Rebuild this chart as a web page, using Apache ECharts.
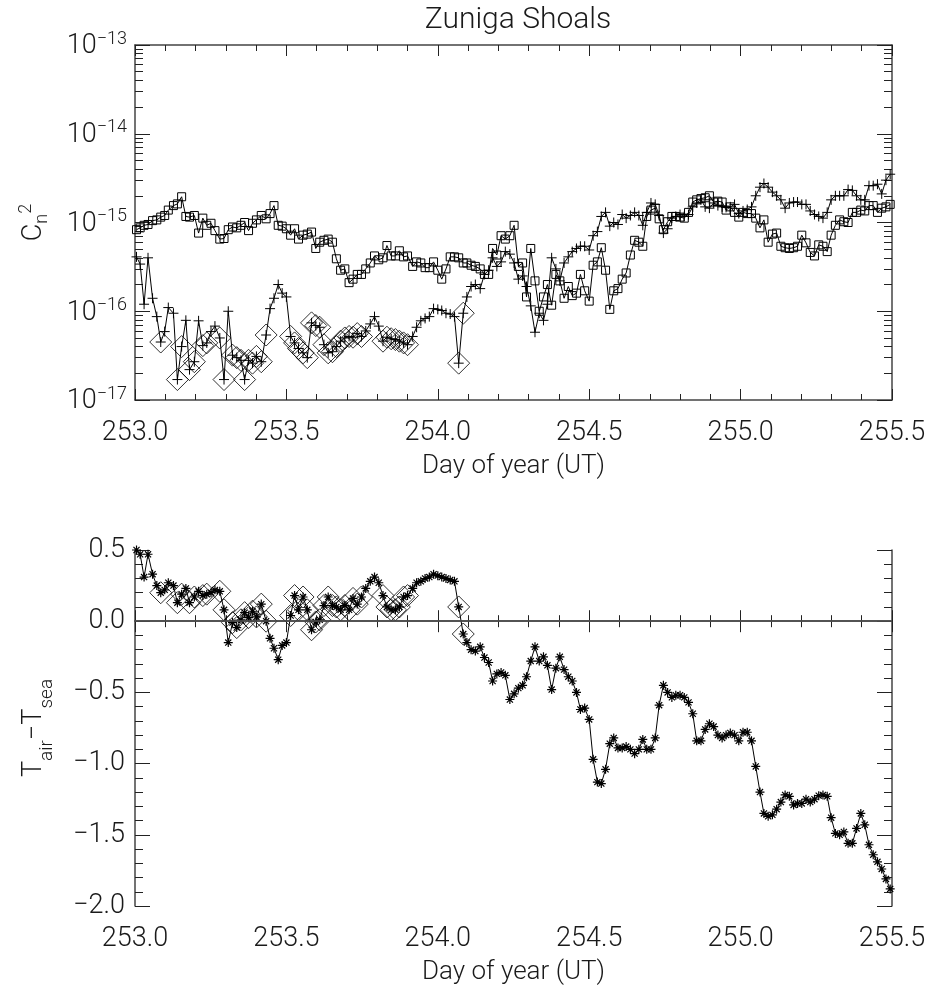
<!DOCTYPE html>
<html>
<head>
<meta charset="utf-8">
<script src="https://cdn.jsdelivr.net/npm/echarts@6/dist/echarts.min.js"></script>
<style>
html,body{margin:0;padding:0;background:#fff;}
#chart{width:932px;height:986px;}
</style>
</head>
<body>
<div id="chart"></div>
<script>
// Sample times (day of year, UT)
const days = [253.005,253.017,253.030,253.043,253.058,253.072,253.085,253.098,253.110,253.127,
253.140,253.154,253.168,253.180,253.196,253.210,253.224,253.237,253.251,253.264,
253.280,253.294,253.308,253.322,253.336,253.350,253.362,253.375,253.388,253.401,
253.417,253.433,253.446,253.459,253.473,253.486,253.500,253.514,253.527,253.540,
253.555,253.569,253.583,253.597,253.610,253.624,253.638,253.652,253.665,253.679,
253.693,253.707,253.720,253.734,253.748,253.762,253.777,253.791,253.805,253.819,
253.832,253.846,253.860,253.873,253.887,253.900,253.917,253.930,253.944,253.958,
253.972,253.986,254.000,254.013,254.027,254.041,254.055,254.069,254.084,254.096,
254.110,254.124,254.140,254.154,254.168,254.181,254.195,254.209,254.223,254.238,
254.252,254.266,254.280,254.293,254.307,254.321,254.335,254.349,254.362,254.376,
254.390,254.403,254.417,254.431,254.444,254.458,254.471,254.485,254.500,254.513,
254.527,254.540,254.554,254.568,254.581,254.595,254.609,254.622,254.636,254.650,
254.664,254.677,254.690,254.704,254.718,254.731,254.745,254.759,254.773,254.786,
254.800,254.814,254.828,254.842,254.855,254.869,254.883,254.897,254.911,254.925,
254.939,254.952,254.966,254.980,254.994,255.008,255.022,255.036,255.050,255.064,
255.077,255.091,255.105,255.119,255.133,255.147,255.161,255.175,255.188,255.202,
255.216,255.230,255.244,255.258,255.272,255.286,255.299,255.313,255.327,255.341,
255.355,255.369,255.383,255.397,255.410,255.424,255.438,255.452,255.466,255.480,
255.494];

// Cn^2 series drawn with "+" markers
const cn2Plus = [4.1e-16,3.4e-16,1.2e-16,4.0e-16,1.4e-16,8.7e-17,4.5e-17,5.9e-17,1.1e-16,9.5e-17,
1.7e-17,4.0e-17,7.9e-17,2.2e-17,2.7e-17,7.8e-17,4.1e-17,4.4e-17,5.9e-17,6.8e-17,
5.0e-17,1.7e-17,1.0e-16,3.2e-17,3.0e-17,2.8e-17,1.7e-17,2.8e-17,2.6e-17,3.1e-17,
2.7e-17,5.4e-17,1.07e-16,1.4e-16,2.0e-16,1.6e-16,1.45e-16,5.2e-17,4.4e-17,3.8e-17,
3.4e-17,3.0e-17,7.4e-17,6.9e-17,6.6e-17,4.2e-17,3.4e-17,3.5e-17,4.0e-17,4.6e-17,
5.0e-17,5.2e-17,5.1e-17,5.6e-17,5.2e-17,6.0e-17,7.2e-17,8.7e-17,6.8e-17,4.6e-17,
5.1e-17,4.9e-17,4.8e-17,4.6e-17,4.4e-17,4.2e-17,5.2e-17,6.6e-17,7.8e-17,8.3e-17,
8.7e-17,1.07e-16,1.05e-16,1.02e-16,9.5e-17,9.3e-17,8.7e-17,2.6e-17,9.5e-17,1.45e-16,
1.9e-16,2.0e-16,1.8e-16,2.6e-16,2.9e-16,4.0e-16,3.2e-16,3.6e-16,4.7e-16,4.4e-16,
3.5e-16,2.3e-16,2.5e-16,1.9e-16,1.15e-16,5.8e-17,9.5e-17,7.9e-17,1.2e-16,4.0e-16,
3.0e-16,2.2e-16,3.5e-16,4.1e-16,4.7e-16,5.1e-16,5.4e-16,5.4e-16,4.9e-16,7.1e-16,
7.9e-16,1.17e-15,1.3e-15,9.1e-16,1.0e-15,9.5e-16,1.23e-15,1.12e-15,1.2e-15,1.3e-15,
1.2e-15,9.3e-16,1.3e-15,1.66e-15,1.6e-15,1.2e-15,7.6e-16,8.5e-16,1.12e-15,1.17e-15,
1.23e-15,1.17e-15,1.23e-15,1.5e-15,1.66e-15,1.8e-15,1.5e-15,1.45e-15,1.66e-15,1.55e-15,
1.5e-15,1.48e-15,1.5e-15,1.6e-15,1.26e-15,1.35e-15,1.4e-15,1.5e-15,2.0e-15,2.5e-15,
2.75e-15,2.5e-15,2.2e-15,2.0e-15,1.8e-15,1.45e-15,1.66e-15,1.7e-15,1.7e-15,1.6e-15,
1.6e-15,1.35e-15,1.23e-15,1.17e-15,1.12e-15,1.3e-15,1.8e-15,2.0e-15,2.0e-15,2.0e-15,
2.35e-15,2.3e-15,2.0e-15,1.8e-15,1.8e-15,2.6e-15,2.6e-15,2.7e-15,2.1e-15,3.0e-15,
3.5e-15];

// Cn^2 series drawn with square markers
const cn2Square = [8.3e-16,8.7e-16,9.3e-16,9.5e-16,1.05e-15,1.07e-15,1.15e-15,1.2e-15,1.38e-15,1.55e-15,
1.62e-15,1.95e-15,1.17e-15,1.15e-15,1.2e-15,7.6e-16,1.12e-15,9.3e-16,9.8e-16,8.1e-16,
6.5e-16,6.6e-16,8.3e-16,8.9e-16,8.7e-16,9.3e-16,1.0e-15,8.1e-16,9.8e-16,1.07e-15,
1.2e-15,1.1e-15,1.26e-15,1.55e-15,9.3e-16,9.1e-16,8.5e-16,7.2e-16,8.5e-16,6.5e-16,
7.2e-16,7.4e-16,7.8e-16,5.1e-16,6.0e-16,6.3e-16,6.5e-16,6.0e-16,3.9e-16,2.9e-16,
3.0e-16,2.1e-16,2.3e-16,2.6e-16,2.6e-16,3.0e-16,3.5e-16,4.2e-16,3.8e-16,4.0e-16,
5.5e-16,4.2e-16,4.2e-16,4.8e-16,4.1e-16,4.2e-16,3.2e-16,3.6e-16,3.5e-16,3.1e-16,
3.1e-16,3.6e-16,2.9e-16,2.3e-16,3.0e-16,4.1e-16,4.1e-16,4.0e-16,3.5e-16,3.5e-16,
3.3e-16,3.2e-16,3.0e-16,2.6e-16,2.6e-16,5.1e-16,4.3e-16,7.1e-16,6.5e-16,7.1e-16,
9.3e-16,3.2e-16,3.5e-16,1.45e-16,5.1e-16,2.2e-16,1.0e-16,1.45e-16,2.0e-16,1.17e-16,
2.6e-16,2.2e-16,1.4e-16,1.9e-16,1.5e-16,1.6e-16,2.6e-16,1.7e-16,1.3e-16,3.3e-16,
3.6e-16,5.2e-16,2.9e-16,1.05e-16,1.7e-16,1.8e-16,2.3e-16,2.7e-16,4.3e-16,6.3e-16,
6.0e-16,5.4e-16,1.17e-15,1.38e-15,1.45e-15,1.1e-15,8.3e-16,1.02e-15,1.17e-15,1.17e-15,
1.15e-15,1.12e-15,1.3e-15,1.7e-15,1.8e-15,1.86e-15,1.9e-15,2.0e-15,1.7e-15,1.74e-15,
1.7e-15,1.38e-15,1.5e-15,1.3e-15,1.15e-15,1.3e-15,1.26e-15,1.26e-15,1.12e-15,8.7e-16,
1.07e-15,6.0e-16,7.4e-16,7.6e-16,5.4e-16,5.2e-16,5.1e-16,5.2e-16,5.4e-16,7.2e-16,
5.9e-16,4.6e-16,4.2e-16,5.6e-16,5.4e-16,4.7e-16,7.2e-16,9.3e-16,1.07e-15,1.02e-15,
1.0e-15,1.3e-15,1.3e-15,1.38e-15,1.35e-15,1.55e-15,1.55e-15,1.3e-15,1.45e-15,1.5e-15,
1.6e-15];

// T_air - T_sea (deg C), asterisk markers
const tDiff = [0.50,0.47,0.31,0.47,0.33,0.25,0.20,0.22,0.27,0.25,
0.13,0.19,0.23,0.13,0.17,0.21,0.18,0.19,0.20,0.22,
0.21,0.08,-0.15,-0.01,-0.045,0.01,0.06,0.025,0.07,0.03,
0.12,0.00,-0.12,-0.19,-0.27,-0.17,-0.15,0.04,0.18,0.08,
0.17,0.08,-0.06,-0.005,0.01,0.11,0.17,0.11,0.10,0.08,
0.11,0.08,0.16,0.12,0.17,0.23,0.28,0.31,0.27,0.18,
0.10,0.08,0.08,0.10,0.17,0.18,0.23,0.27,0.28,0.30,
0.31,0.33,0.32,0.31,0.30,0.29,0.28,0.10,-0.09,-0.15,
-0.20,-0.21,-0.18,-0.255,-0.29,-0.42,-0.37,-0.36,-0.38,-0.55,
-0.51,-0.47,-0.45,-0.39,-0.28,-0.18,-0.28,-0.25,-0.31,-0.48,
-0.33,-0.25,-0.34,-0.39,-0.42,-0.50,-0.62,-0.61,-0.69,-0.97,
-1.13,-1.14,-1.04,-0.86,-0.82,-0.89,-0.89,-0.88,-0.90,-0.93,
-0.90,-0.83,-0.90,-0.90,-0.82,-0.59,-0.45,-0.50,-0.535,-0.52,
-0.52,-0.535,-0.57,-0.65,-0.84,-0.84,-0.76,-0.72,-0.74,-0.80,
-0.82,-0.80,-0.785,-0.80,-0.84,-0.78,-0.78,-0.84,-1.02,-1.20,
-1.35,-1.37,-1.36,-1.32,-1.27,-1.22,-1.23,-1.29,-1.28,-1.28,
-1.25,-1.27,-1.25,-1.225,-1.22,-1.23,-1.38,-1.49,-1.50,-1.48,
-1.56,-1.56,-1.455,-1.35,-1.43,-1.57,-1.64,-1.69,-1.74,-1.81,
-1.88];

// Times that are flagged with a diamond in both panels
const diamondDays = [253.085,253.140,253.154,253.180,253.196,253.224,253.237,253.280,253.294,
253.322,253.336,253.350,253.362,253.375,253.388,253.401,253.417,253.433,
253.514,253.527,253.540,253.555,253.569,253.583,253.597,253.610,253.624,253.638,
253.652,253.665,253.679,253.693,253.707,253.720,253.734,253.748,
253.819,253.832,253.846,253.860,253.873,253.887,253.900,254.069,254.084];

const xTicks = [253.0, 253.5, 254.0, 254.5, 255.0, 255.5];
const cn2Decades = [1e-17, 1e-16, 1e-15, 1e-14, 1e-13];
const tTicks = [-2.0, -1.5, -1.0, -0.5, 0.0, 0.5];

// ---- build
const FONT = 'Roboto';
const FW = 300;
const TXT = '#1a1a1a';
const FRAME = '#444';

const plusData = days.map((d, i) => [d, cn2Plus[i]]);
const squareData = days.map((d, i) => [d, cn2Square[i]]);
const tData = days.map((d, i) => [d, tDiff[i]]);
const diamTop = [], diamBot = [];
diamondDays.forEach(d => {
  const i = days.indexOf(d);
  if (i >= 0) { diamTop.push([d, cn2Plus[i]]); diamBot.push([d, tDiff[i]]); }
});

const minorLog = [];
for (let e = -17; e < -13; e++) for (let k = 2; k <= 9; k++) minorLog.push(k * Math.pow(10, e));

const PLUS = 'path://M0,5L10,5M5,0L5,10';
const STAR = 'path://M5,0L5,10M0,5L10,5M1.6,1.6L8.4,8.4M1.6,8.4L8.4,1.6';

const lineAxis = { show: true, lineStyle: { color: FRAME, width: 1.5 } };

function xAx(grid, pos, labels) {
  return {
    gridIndex: grid, type: 'value', position: pos,
    min: xTicks[0], max: xTicks[xTicks.length - 1], interval: 0.5,
    axisLine: lineAxis,
    axisTick: { show: true, inside: true, length: 11, lineStyle: { color: '#222', width: 1 } },
    minorTick: { show: true, splitNumber: 5, length: 6, lineStyle: { color: '#222', width: 1 } },
    splitLine: { show: false }, minorSplitLine: { show: false },
    axisLabel: labels ? { show: true, margin: 20, fontSize: 27, fontFamily: FONT, fontWeight: FW, color: TXT,
      formatter: v => v.toFixed(1) } : { show: false },
    name: labels ? 'Day of year (UT)' : '', nameLocation: 'middle', nameGap: 53,
    nameTextStyle: { fontSize: 26, fontFamily: FONT, fontWeight: FW, color: TXT }
  };
}

function logAx(pos, minor, labels) {
  const ax = {
    gridIndex: 0, type: 'log', logBase: 10, position: pos,
    min: 1e-17, max: 1e-13,
    axisLine: minor ? { show: false } : lineAxis,
    axisTick: { show: true, inside: true, length: minor ? 8 : 15,
      customValues: minor ? minorLog : cn2Decades, lineStyle: { color: '#222', width: 1 } },
    minorTick: { show: false },
    splitLine: { show: false },
    axisLabel: { show: false }
  };
  if (labels) {
    ax.axisLabel = {
      show: true, customValues: cn2Decades, margin: 8, color: TXT,
      formatter: v => '{b|10}{s|\u2212' + Math.round(-Math.log10(v)) + '}',
      rich: {
        b: { fontSize: 27, fontFamily: FONT, fontWeight: FW, color: TXT, lineHeight: 30, verticalAlign: 'bottom' },
        s: { fontSize: 18, fontFamily: FONT, fontWeight: FW, color: TXT, lineHeight: 18, verticalAlign: 'top' }
      }
    };
    ax.name = '{c|C}{n|n}{p|2}';
    ax.nameLocation = 'middle';
    ax.nameGap = 84;
    ax.nameTextStyle = {
      rich: {
        c: { fontSize: 27, fontFamily: FONT, fontWeight: FW, color: TXT, lineHeight: 34, verticalAlign: 'middle' },
        n: { fontSize: 18, fontFamily: FONT, fontWeight: FW, color: TXT, lineHeight: 18, verticalAlign: 'bottom' },
        p: { fontSize: 18, fontFamily: FONT, fontWeight: FW, color: TXT, lineHeight: 18, verticalAlign: 'top' }
      }
    };
  }
  return ax;
}

function tAx(pos, labels) {
  const ax = {
    gridIndex: 1, type: 'value', position: pos,
    min: tTicks[0], max: tTicks[tTicks.length - 1], interval: 0.5,
    axisLine: lineAxis,
    axisTick: { show: true, inside: true, length: 15, lineStyle: { color: '#222', width: 1 } },
    minorTick: { show: true, splitNumber: 5, length: 8, lineStyle: { color: '#222', width: 1 } },
    splitLine: { show: false }, minorSplitLine: { show: false },
    axisLabel: { show: false }
  };
  if (labels) {
    ax.axisLabel = { show: true, margin: 10, fontSize: 27, fontFamily: FONT, fontWeight: FW, color: TXT,
      formatter: v => v.toFixed(1).replace('-', '\u2212') };
    ax.name = '{t|T}{s|air}{t|\u2212T}{s|sea}';
    ax.nameLocation = 'middle';
    ax.nameGap = 84;
    ax.nameTextStyle = {
      rich: {
        t: { fontSize: 27, fontFamily: FONT, fontWeight: FW, color: TXT, lineHeight: 30, verticalAlign: 'top' },
        s: { fontSize: 19, fontFamily: FONT, fontWeight: FW, color: TXT, lineHeight: 19, verticalAlign: 'bottom', padding: [0, 0, -6, 0] }
      }
    };
  }
  return ax;
}

const blackLine = { color: '#000', width: 1 };
const hollow = { color: 'rgba(0,0,0,0)', borderColor: '#000', borderWidth: 1 };

const option = {
  animation: false,
  backgroundColor: '#fff',
  title: {
    text: 'Zuniga Shoals', left: 513, top: 0, textAlign: 'center',
    textStyle: { fontSize: 30, fontFamily: FONT, fontWeight: FW, color: TXT }
  },
  grid: [
    { left: 135, right: 40, top: 45, height: 355 },
    { left: 135, right: 40, top: 550, height: 357 }
  ],
  xAxis: [ xAx(0, 'bottom', true), xAx(0, 'top', false), xAx(1, 'bottom', true), xAx(1, 'top', false) ],
  yAxis: [
    logAx('left', false, true), logAx('left', true, false),
    logAx('right', false, false), logAx('right', true, false),
    tAx('left', true), tAx('right', false)
  ],
  series: [
    { type: 'line', xAxisIndex: 0, yAxisIndex: 0, data: plusData,
      symbol: PLUS, symbolSize: 10, showSymbol: true, showAllSymbol: true,
      lineStyle: blackLine, itemStyle: { color: '#000', borderColor: '#000', borderWidth: 1 } },
    { type: 'line', xAxisIndex: 0, yAxisIndex: 0, data: squareData,
      symbol: 'rect', symbolSize: 8, showSymbol: true, showAllSymbol: true,
      lineStyle: blackLine, itemStyle: hollow },
    { type: 'scatter', xAxisIndex: 0, yAxisIndex: 0, data: diamTop,
      symbol: 'diamond', symbolSize: 22, itemStyle: hollow },
    { type: 'line', xAxisIndex: 2, yAxisIndex: 4, data: tData,
      symbol: STAR, symbolSize: 9, showSymbol: true, showAllSymbol: true,
      lineStyle: blackLine, itemStyle: { color: '#000', borderColor: '#000', borderWidth: 1.2 },
      markLine: { silent: true, symbol: ['none', 'none'], label: { show: false },
        lineStyle: { color: '#555', width: 1.5, type: 'solid' }, data: [{ yAxis: 0 }] } },
    { type: 'scatter', xAxisIndex: 2, yAxisIndex: 4, data: diamBot,
      symbol: 'diamond', symbolSize: 22, itemStyle: hollow }
  ]
};

const chart = echarts.init(document.getElementById('chart'), null, { renderer: 'canvas' });
chart.setOption(option);
</script>
</body>
</html>
